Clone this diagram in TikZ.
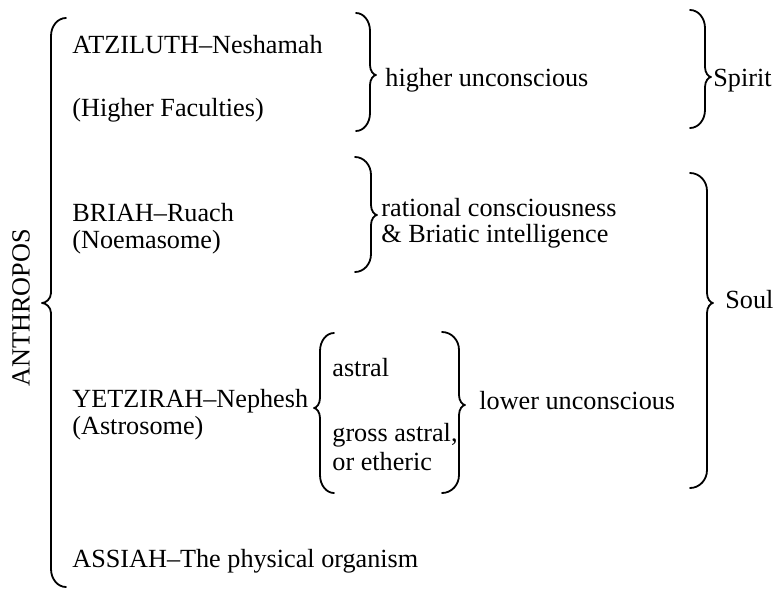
\documentclass[tikz,border=0pt]{standalone}
\usepackage{fontspec}
\setmainfont{Liberation Serif}
\tikzset{
  txt/.style={anchor=base west, inner sep=0pt, font=\fontsize{13.1}{15}\selectfont},
  brline/.style={line width=0.9pt, line cap=round, line join=round},
}
% #1 end x, #2 stem x, #3 tip x, #4 top y, #5 tip y, #6 bottom y
\newcommand{\mybrace}[6]{%
  \draw[brline] (#1,#4)
    .. controls ({#1+0.552*(#2-#1)},#4) and (#2,{#4+8}) .. (#2,{#4+18})
    -- (#2,{#5-10})
    .. controls (#2,{#5-4}) and ({#2+0.6*(#3-#2)},#5) .. (#3,#5)
    .. controls ({#2+0.6*(#3-#2)},#5) and (#2,{#5+4}) .. (#2,{#5+10})
    -- (#2,{#6-18})
    .. controls (#2,{#6-8}) and ({#1+0.552*(#2-#1)},#6) .. (#1,#6);}
\begin{document}
\begin{tikzpicture}[x=0.5pt,y=-0.5pt]
\useasboundingbox (0,0) rectangle (776,589);
% left column
\node[txt] (atz) at (72,53) {ATZILUTH\textendash Neshamah};
\node[txt] (hf) at (72,116) {(Higher Faculties)};
\node[txt] (bri) at (72,221) {BRIAH\textendash Ruach};
\node[txt] (noe) at (72,248) {(Noemasome)};
\node[txt] (yet) at (72,407) {YETZIRAH\textendash Nephesh};
\node[txt] (ast) at (72,434) {(Astrosome)};
\node[txt] (ass) at (72,567) {ASSIAH\textendash The physical organism};
% vertical label
\node[inner sep=0pt, rotate=90, font=\fontsize{13.1}{15}\selectfont] (anth) at (21,308) {ANTHROPOS};
% middle column
\node[txt] (hu) at (385,86) {higher unconscious};
\node[txt] (rc) at (381,216) {rational consciousness};
\node[txt] (bi) at (381,242) {\& Briatic intelligence};
\node[txt] (astral) at (332,376) {astral};
\node[txt] (gross) at (332,441) {gross astral,};
\node[txt] (eth) at (332,470) {or etheric};
\node[txt] (lu) at (479,409) {lower unconscious};
% right column
\node[txt] (spirit) at (713,86) {Spirit};
\node[txt] (soul) at (725,308) {Soul};
% braces
\mybrace{66}{51}{42}{18}{303}{587}
\mybrace{356}{370}{376}{13}{75}{131}
\mybrace{690}{705}{711}{10}{77}{128}
\mybrace{355}{371}{377}{157}{215}{272}
\mybrace{690}{707}{713}{173}{303}{488}
\mybrace{334}{320}{314}{333}{408}{493}
\mybrace{442}{459}{465}{332}{405}{493}
\end{tikzpicture}
\end{document}
